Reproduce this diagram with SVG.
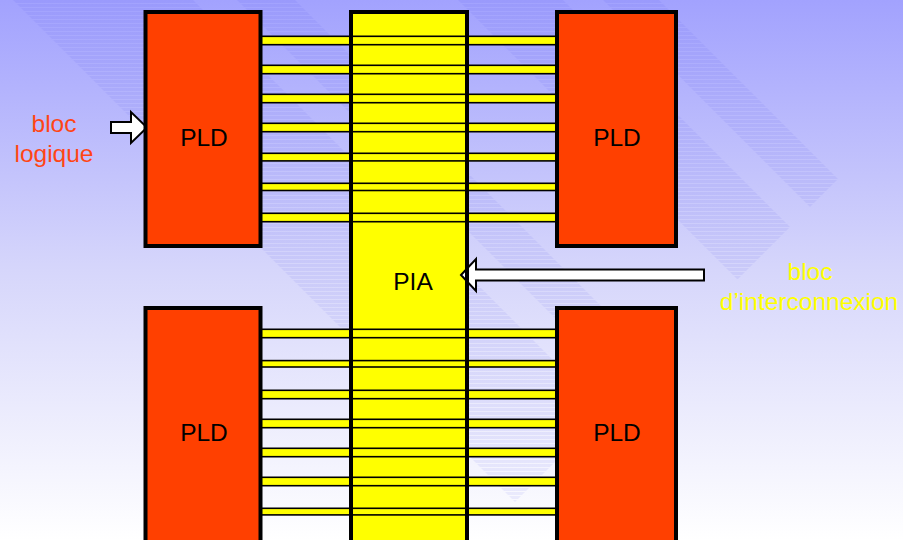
<svg xmlns="http://www.w3.org/2000/svg" width="903" height="540" viewBox="0 0 903 540">
<defs>
  <linearGradient id="bg" x1="0" y1="0" x2="0" y2="1">
    <stop offset="0" stop-color="#A2A2FE"/>
    <stop offset="0.5" stop-color="#D6D6FB"/>
    <stop offset="1" stop-color="#FFFFFF"/>
  </linearGradient>
  <pattern id="stripes" width="10" height="4" patternUnits="userSpaceOnUse">
    <rect width="10" height="3" fill="#4040E0" fill-opacity="0.08"/>
  </pattern>
</defs>
<style>
  .pld { fill: #FF4000; stroke: #000; stroke-width: 4; }
  .pia-fill { fill: #FFFF00; }
  .pia-line { fill: none; stroke: #000; stroke-width: 4; }
  .bar { fill: #FFFF00; stroke: #000; stroke-width: 1.6; }
  .arrow { fill: #FFFFFF; stroke: #000; stroke-width: 2; stroke-linejoin: miter; }
  .lbl { font-family: "Liberation Sans", Arial, sans-serif; font-size: 24.5px; text-anchor: middle; }
  .band { fill: url(#stripes); }
</style>

<rect x="0" y="0" width="903" height="540" fill="url(#bg)"/>
<g id="background-bands">
  <polygon class="band" points="593,-10 649,-10 838,179 810,207"/>
  <polygon class="band" points="448,-10 553,-10 790,227 737.5,279.5"/>
  <polygon class="band" points="227,-10 285,-10 656,361 627,390"/>
  <polygon class="band" points="3,-10 183,-10 605,412 515,502"/>
</g>

<g id="pia">
  <rect class="pia-fill" x="351" y="12" width="116" height="540"/>
  <text class="lbl" x="413" y="290" fill="#000">PIA</text>
</g>

<g id="connectors">
  <!-- top bus bars -->
  <rect class="bar" x="259" y="36.3" width="297" height="8.4"/>
  <rect class="bar" x="259" y="65.3" width="297" height="8.4"/>
  <rect class="bar" x="259" y="94.3" width="297" height="8.4"/>
  <rect class="bar" x="259" y="123.3" width="297" height="8.4"/>
  <rect class="bar" x="259" y="153.3" width="297" height="7.6"/>
  <rect class="bar" x="259" y="183.3" width="297" height="7.2"/>
  <rect class="bar" x="259" y="213.3" width="297" height="8.4"/>
  <!-- bottom bus bars -->
  <rect class="bar" x="259" y="329.3" width="297" height="8.4"/>
  <rect class="bar" x="259" y="360.6" width="297" height="6.4"/>
  <rect class="bar" x="259" y="390.3" width="297" height="8.4"/>
  <rect class="bar" x="259" y="419.3" width="297" height="8.4"/>
  <rect class="bar" x="259" y="448.3" width="297" height="8.4"/>
  <rect class="bar" x="259" y="477.3" width="297" height="8.4"/>
  <rect class="bar" x="259" y="508.3" width="297" height="6.6"/>
  <!-- pointer arrows -->
  <polygon class="arrow" points="111,122 131,122 131,112 147,127.5 131,143 131,133 111,133"/>
  <polygon class="arrow" points="461,275 476,259 476,269.5 704,269.5 704,280.5 476,280.5 476,291"/>
</g>

<g id="pia-outline">
  <rect class="pia-line" x="351" y="12" width="116" height="540"/>
</g>

<g id="pld-top-left">
  <rect class="pld" x="145.5" y="12" width="115" height="234"/>
  <text class="lbl" x="204" y="146" fill="#000">PLD</text>
</g>
<g id="pld-top-right">
  <rect class="pld" x="557" y="12" width="119" height="234"/>
  <text class="lbl" x="617" y="146" fill="#000">PLD</text>
</g>
<g id="pld-bottom-left">
  <rect class="pld" x="145.5" y="308" width="115" height="250"/>
  <text class="lbl" x="204" y="441" fill="#000">PLD</text>
</g>
<g id="pld-bottom-right">
  <rect class="pld" x="557" y="308" width="119" height="250"/>
  <text class="lbl" x="617" y="441" fill="#000">PLD</text>
</g>

<g id="label-bloc-logique">
  <text class="lbl" x="54" y="132" fill="#FF4515">bloc</text>
  <text class="lbl" x="54" y="162" fill="#FF4515">logique</text>
</g>
<g id="label-bloc-interconnexion">
  <text class="lbl" x="810" y="280" fill="#FFFF00">bloc</text>
  <text class="lbl" x="809" y="310" fill="#FFFF00">d’interconnexion</text>
</g>
</svg>
